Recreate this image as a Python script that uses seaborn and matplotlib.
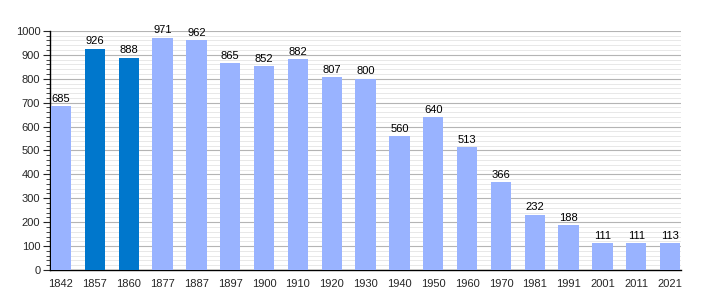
import matplotlib
matplotlib.use("Agg")
import matplotlib.pyplot as plt
import seaborn as sns
import pandas as pd
from matplotlib.ticker import MultipleLocator

years = ["1842", "1857", "1860", "1877", "1887", "1897", "1900", "1910", "1920", "1930",
         "1940", "1950", "1960", "1970", "1981", "1991", "2001", "2011", "2021"]
population = [685, 926, 888, 971, 962, 865, 852, 882, 807, 800,
              560, 640, 513, 366, 232, 188, 111, 111, 113]
highlight = [False, True, True] + [False] * 16

sns.set_style("white")
plt.rcParams['font.family'] = ['Liberation Sans', 'DejaVu Sans']

df = pd.DataFrame({"year": years, "pop": population,
                   "kind": ["dark" if h else "light" for h in highlight]})

fig = plt.figure(figsize=(7.1, 3.0), dpi=100)
ax = fig.add_axes([0.0704, 0.1, 0.889, 0.797])

sns.barplot(data=df, x="year", y="pop", hue="kind",
            palette={"light": "#99b3ff", "dark": "#0077cc"},
            dodge=False, width=0.6, legend=False, ax=ax, saturation=1, zorder=3,
            edgecolor="none", linewidth=0)

ax.set_xlim(-0.325, 18.325)
ax.set_ylim(0, 1000)
ax.yaxis.set_major_locator(MultipleLocator(100))
ax.yaxis.set_minor_locator(MultipleLocator(20))
ax.grid(which="major", axis="y", color="#b4b4b4", linewidth=0.8, zorder=0)
ax.grid(which="minor", axis="y", color="#e4e4e4", linewidth=0.6, zorder=0)
ax.set_axisbelow(True)

for s in ["top", "right"]:
    ax.spines[s].set_visible(False)
for s in ["left", "bottom"]:
    ax.spines[s].set_color("black")
    ax.spines[s].set_linewidth(1)

ax.tick_params(axis="y", which="major", left=True, length=5, width=0.8, labelsize=8, pad=2)
ax.tick_params(axis="y", which="minor", left=True, length=3, width=0.6)
ax.tick_params(axis="x", bottom=False, labelsize=8, pad=3)
ax.set_xlabel("")
ax.set_ylabel("")

for i, v in enumerate(population):
    ax.text(i, v + 10, str(v), ha="center", va="bottom", fontsize=8, color="black")

fig.savefig("out.png", dpi=100)
